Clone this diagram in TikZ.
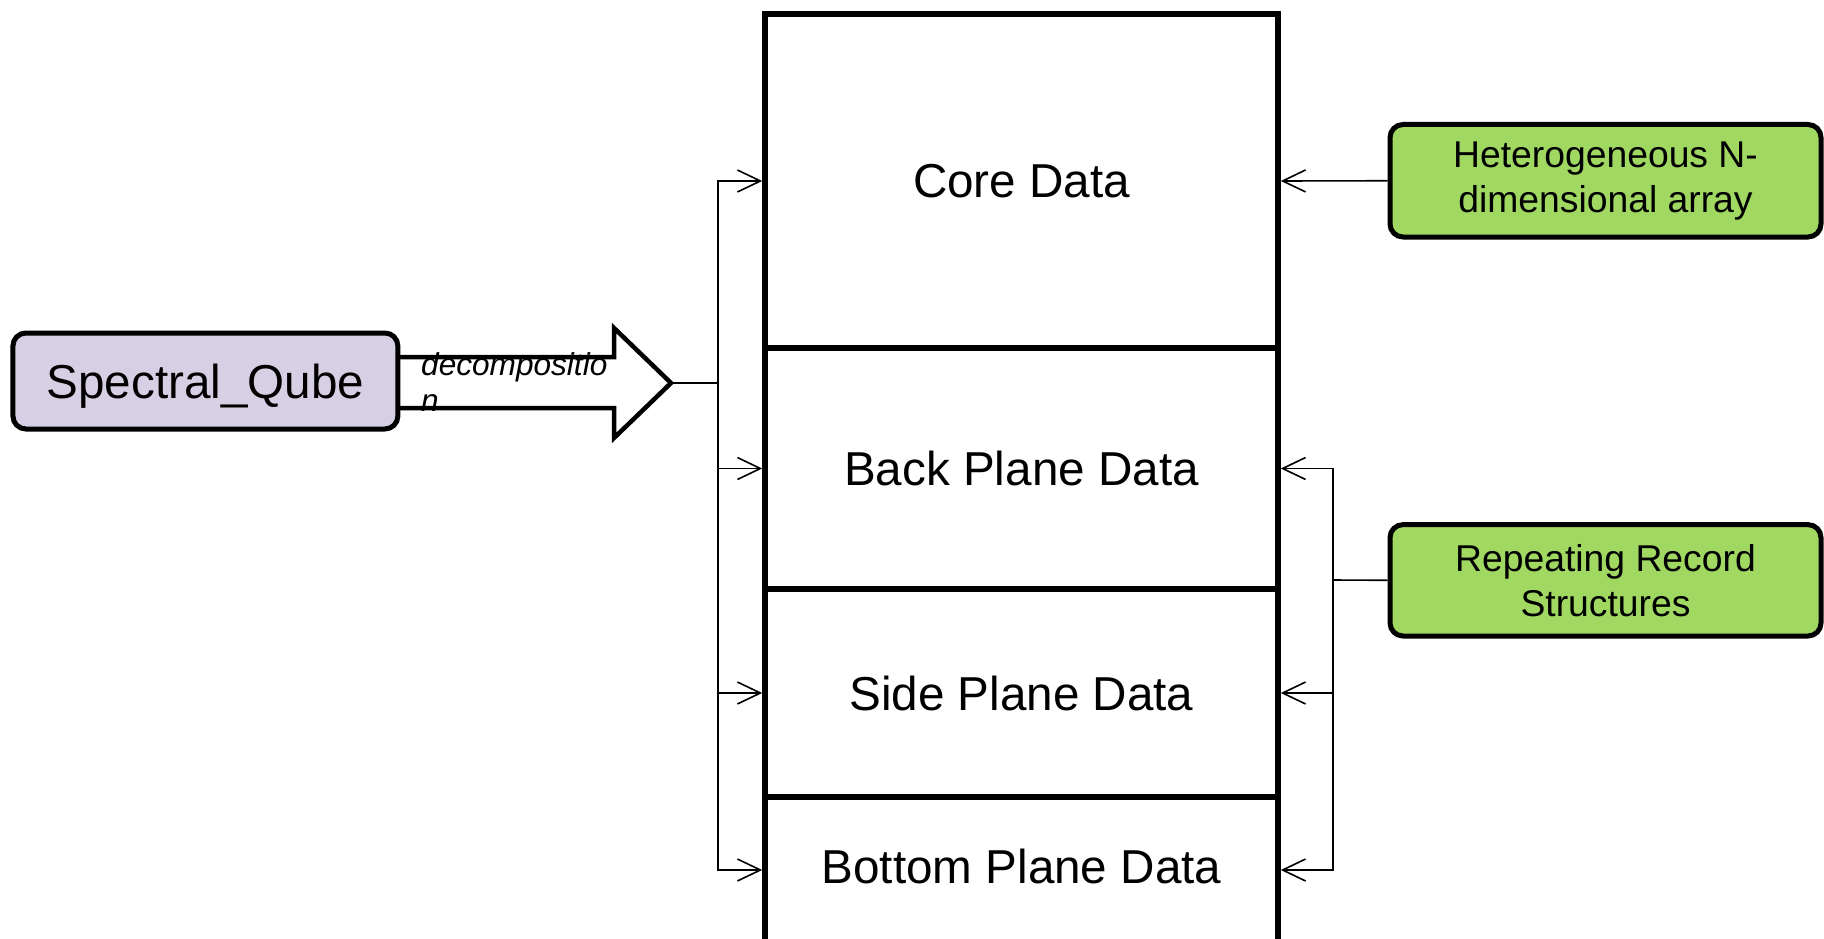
\documentclass[tikz,border=0pt]{standalone}
\usepackage{fontspec}
\setmainfont{Liberation Sans}
\usepackage{xcolor}
\usetikzlibrary{arrows.meta}
\definecolor{qubepurple}{RGB}{215,207,227}
\definecolor{leafgreen}{RGB}{160,216,98}
\tikzset{
  layer/.style={draw, line width=5.5pt, minimum width=513pt, inner sep=0pt, font=\fontsize{47.6}{57}\selectfont},
  tag/.style={draw, line width=5pt, rounded corners=13pt, align=center, inner sep=0pt},
  link/.style={line width=1.6pt},
  feed/.style={link, -{Straight Barb[length=23pt, width=22pt]}},
}

\begin{document}
\begin{tikzpicture}[x=1pt,y=-1pt]
	\clip (0,0) rectangle (1824,939);

	% Decomposition arrow (drawn first, the qube box covers its open end)
	\coordinate (tip) at (671,383);
	\draw[line width=4.5pt, fill=white] (390,357) -- (614,357) -- (614,328) -- (tip) -- (614,438) -- (614,408) -- (390,408);

	% Source box
	\node[tag, fill=qubepurple, minimum width=385pt, minimum height=96pt, text height=34pt, text depth=0pt, font=\fontsize{47.6}{57}\selectfont] (qube) at (205.4,381) {Spectral\_Qube};
	\node[anchor=base west, align=left, inner sep=0pt, font=\itshape\fontsize{31.6}{36}\selectfont] (decomp) at (421,411) {decompositio\\n};

	% Stack of data layers
	\node[layer, minimum height=334pt] (core) at (1021.5,181) {Core Data};
	\node[layer, minimum height=241pt] (back) at (1021.5,468.5) {Back Plane Data};
	\node[layer, minimum height=208pt] (side) at (1021.5,693) {Side Plane Data};
	\node[layer, minimum height=146pt, text depth=7pt] (bottom) at (1021.5,870) {Bottom Plane Data};

	% Left bus
	\coordinate (busL) at (718,383);
	\draw[link] (tip) -- (busL);
	\foreach \layer in {core,back,side,bottom}
		\draw[feed] (busL) |- (\layer.west);

	% Right side boxes
	\node[tag, fill=leafgreen, minimum width=431pt, minimum height=112.5pt, font=\fontsize{37.3}{45}\selectfont] (hetero) at (1605.5,180.75) {Heterogeneous N-\\dimensional array};
	\node[tag, fill=leafgreen, minimum width=431pt, minimum height=111.4pt, font=\fontsize{37.3}{45}\selectfont] (records) at (1605.5,580.3) {Repeating Record\\Structures};

	\draw[feed] (hetero.west) -- (core.east);

	% Right bus
	\coordinate (busR) at (1333,580);
	\draw[link] (records.west) -- (busR);
	\foreach \layer in {back,side,bottom}
		\draw[feed] (busR) |- (\layer.east);
\end{tikzpicture}
\end{document}
